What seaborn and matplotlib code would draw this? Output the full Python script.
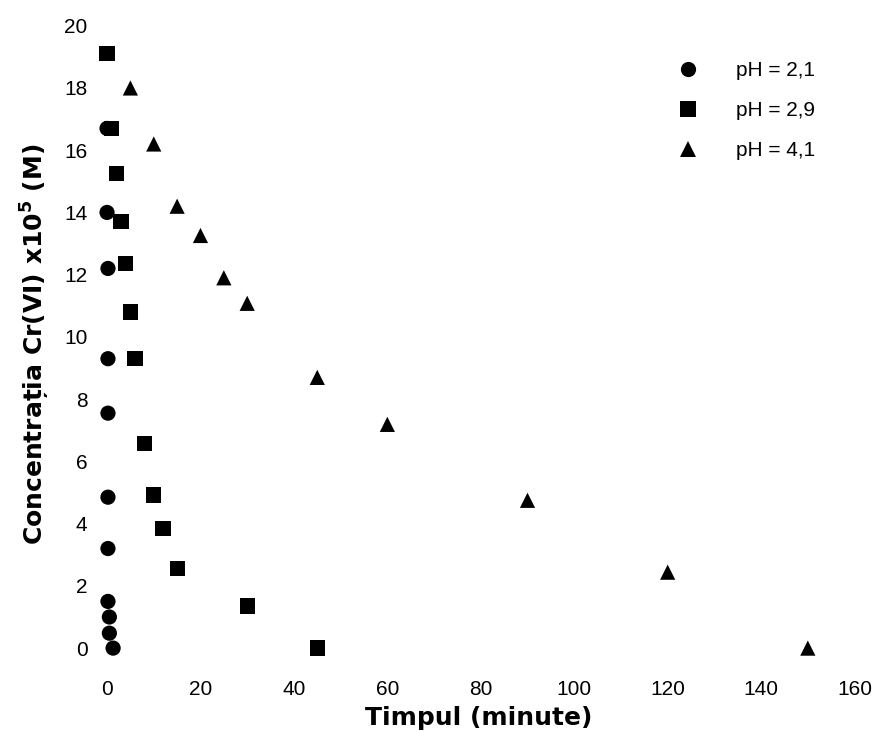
import pandas as pd
import seaborn as sns
import matplotlib.pyplot as plt

# pH = 2,1 (circles)
t_ph21 = [0, 0, 0.2, 0.2, 0.2, 0.2, 0.2, 0.2, 0.5, 0.5, 1.3]
c_ph21 = [16.7, 14.0, 12.2, 9.3, 7.55, 4.85, 3.2, 1.5, 1.0, 0.48, 0.0]

# pH = 2,9 (squares)
t_ph29 = [0, 1, 2, 3, 4, 5, 6, 8, 10, 12, 15, 30, 45]
c_ph29 = [19.1, 16.7, 15.25, 13.7, 12.36, 10.8, 9.3, 6.58, 4.92, 3.85, 2.57, 1.35, 0.0]

# pH = 4,1 (triangles)
t_ph41 = [5, 10, 15, 20, 25, 30, 45, 60, 90, 120, 150]
c_ph41 = [18.0, 16.2, 14.2, 13.26, 11.9, 11.08, 8.7, 7.19, 4.75, 2.44, 0.0]

labels = ["pH = 2,1", "pH = 2,9", "pH = 4,1"]

df = pd.concat(
    [
        pd.DataFrame({"t": t_ph21, "c": c_ph21, "serie": labels[0]}),
        pd.DataFrame({"t": t_ph29, "c": c_ph29, "serie": labels[1]}),
        pd.DataFrame({"t": t_ph41, "c": c_ph41, "serie": labels[2]}),
    ],
    ignore_index=True,
)

sns.set_style("white")
plt.rcParams["font.family"] = ["Liberation Sans", "DejaVu Sans"]
plt.rcParams["text.color"] = "black"
plt.rcParams["axes.labelcolor"] = "black"
plt.rcParams["xtick.color"] = "black"
plt.rcParams["ytick.color"] = "black"

fig = plt.figure(figsize=(8.8, 7.32), dpi=100)
ax = fig.add_axes([0.1057, 0.0806, 0.876, 0.897])

sns.scatterplot(
    data=df,
    x="t",
    y="c",
    style="serie",
    markers={labels[0]: "o", labels[1]: "s", labels[2]: "^"},
    color="black",
    s=120,
    edgecolor="black",
    linewidth=0,
    ax=ax,
)

ax.set_xlim(-3, 162)
ax.set_ylim(-0.8, 20.3)
ax.set_xticks(range(0, 161, 20))
ax.set_yticks(range(0, 21, 2))
ax.tick_params(axis="both", labelsize=15, length=0, labelcolor="black")
ax.tick_params(axis="x", pad=5)
ax.tick_params(axis="y", pad=4)
for s in ax.spines.values():
    s.set_visible(False)

ax.set_xlabel("Timpul (minute)", fontsize=18, fontweight="bold", labelpad=5,
              family=["DejaVu Sans"], color="black")
ax.set_ylabel("Concentrația Cr(VI) x10$^{\\mathbf{5}}$ (M)", fontsize=18,
              fontweight="bold", labelpad=9, family=["DejaVu Sans"], color="black")

leg = ax.legend(
    loc="upper right",
    bbox_to_anchor=(0.961, 0.96),
    frameon=False,
    fontsize=15,
    labelspacing=1.0,
    handletextpad=1.3,
    markerscale=1.0,
)
for txt in leg.get_texts():
    txt.set_color("black")

fig.savefig("out.png", dpi=100)
